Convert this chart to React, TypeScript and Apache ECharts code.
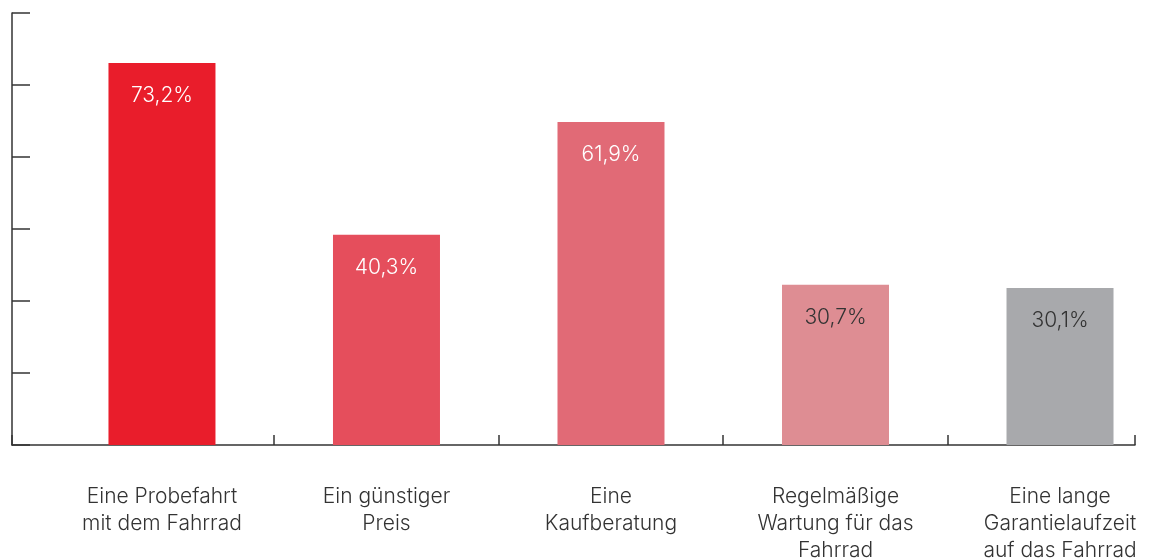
import React, { useEffect, useRef } from "react";
import * as echarts from "echarts";

const categories = [
  "Eine Probefahrt\nmit dem Fahrrad",
  "Ein günstiger\nPreis",
  "Eine\nKaufberatung",
  "Regelmäßige\nWartung für das\nFahrrad",
  "Eine lange\nGarantielaufzeit\nauf das Fahrrad",
];
const values = [73.2, 40.3, 61.9, 30.7, 30.1];
const barColors = ["#E91D2B", "#E54E5C", "#E16A76", "#DE8D93", "#A8A9AC"];
const labelColors = ["#ffffff", "#ffffff", "#ffffff", "#333333", "#333333"];
const xTickPositions = [-0.668, 0.5, 1.5, 2.5, 3.5, 4.334];

export default function App() {
  const ref = useRef<HTMLDivElement>(null);
  useEffect(() => {
    if (!ref.current) return;
    const chart = echarts.init(ref.current, null, { renderer: "svg" });
    const font = "Inter, 'Open Sans', sans-serif";
    chart.setOption({
      animation: false,
      grid: { left: 12, right: 14, top: 13, bottom: 115, outerBoundsMode: "none", containLabel: false },
      xAxis: {
        type: "value",
        min: -0.668,
        max: 4.334,
        splitLine: { show: false },
        axisLine: { show: true, lineStyle: { color: "#333", width: 1.5 } },
        axisTick: {
          show: true,
          inside: true,
          length: 10,
          customValues: xTickPositions,
          lineStyle: { color: "#333", width: 1.5 },
        },
        axisLabel: {
          customValues: [0, 1, 2, 3, 4],
          formatter: (v: number) => categories[Math.round(v)] ?? "",
          color: "#333",
          fontSize: 21,
          fontWeight: 300,
          fontFamily: font,
          lineHeight: 27,
          margin: 37,
          verticalAlign: "top",
        },
      },
      yAxis: {
        type: "value",
        min: 0,
        max: 82.8,
        interval: 13.8,
        splitLine: { show: false },
        axisLine: { show: true, onZero: false, lineStyle: { color: "#333", width: 1.5 } },
        axisTick: { show: true, inside: true, length: 18, lineStyle: { color: "#333", width: 1.5 } },
        axisLabel: { show: false },
      },
      series: [
        {
          type: "bar",
          barWidth: 107,
          data: values.map((v, i) => ({
            value: [i, v],
            itemStyle: { color: barColors[i] },
            label: { color: labelColors[i] },
          })),
          label: {
            show: true,
            position: "insideTop",
            distance: 21,
            fontSize: 21,
            fontWeight: 300,
            fontFamily: font,
            formatter: (p: any) => p.value[1].toFixed(1).replace(".", ",") + "%",
          },
        },
      ],
    });
    return () => chart.dispose();
  }, []);
  return (
    <div
      ref={ref}
      style={{ position: "fixed", left: 0, top: 0, width: 1149, height: 560 }}
    />
  );
}
